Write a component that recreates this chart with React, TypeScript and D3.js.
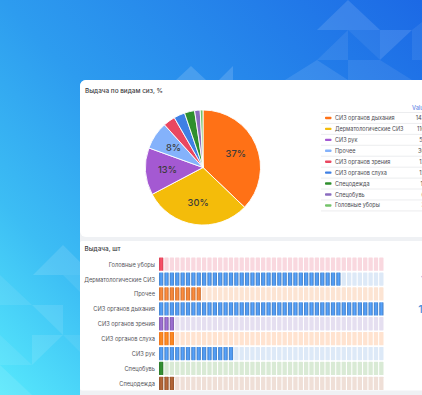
import React from 'react';
import * as d3 from 'd3';

const W = 422;
const H = 395;

// Pie (Выдача по видам сиз, %)
const pieNames = [
  'СИЗ органов дыхания',
  'Дерматологические СИЗ',
  'СИЗ рук',
  'Прочее',
  'СИЗ органов зрения',
  'СИЗ органов слуха',
  'Спецодежда',
  'Спецобувь',
  'Головные уборы',
];
const pieValues = [143, 116, 51, 30, 13, 12, 11, 6, 3];
const pieColors = ['#FF7116', '#F4BC0A', '#A459D2', '#84B2FB', '#EA4760', '#3F80E4', '#2F8F2E', '#8A6CBF', '#74C36A'];
const pieLights = ['#FFA862', '#FFE54A', '#CD9CEA', '#A9CCFF', '#F06F82', '#6A9EEE', '#4BAA45', '#A58DD0', '#95D48C'];

// Bar gauge (Выдача, шт)
const barNames = [
  'Головные уборы',
  'Дерматологические СИЗ',
  'Прочее',
  'СИЗ органов дыхания',
  'СИЗ органов зрения',
  'СИЗ органов слуха',
  'СИЗ рук',
  'Спецобувь',
  'Спецодежда',
];
const barValues = [3, 116, 30, 143, 13, 12, 51, 6, 11];
const barLit = ['#E5465B', '#4A8CD9', '#E07934', '#4A8CD9', '#8A62B9', '#FF7A1E', '#4A8CD9', '#2E7F2C', '#9E5A31'];
const barUnlit = ['#F9D8DF', '#DDE9F7', '#FCE4D3', '#DDE9F7', '#E5DFF0', '#FFE3D0', '#DDE9F7', '#D9EAD5', '#EFDFD7'];
const cellCount = 42;

// decorative background triangles
const decoTriangles: [number, number][][] = [
  [[317, 30], [348, 0], [380, 30]],
  [[380, 30], [412, 30], [380, 60]],
  [[317, 60], [348, 30], [348, 60]],
  [[348, 30], [380, 30], [380, 60]],
  [[285, 80], [317, 60], [348, 80]],
  [[348, 60], [380, 60], [412, 80], [348, 80]],
  [[412, 30], [422, 22], [422, 60], [412, 60]],
  [[176, 80], [191, 66], [206, 80]],
  [[219, 80], [233, 66], [233, 80]],
  [[33, 275], [63, 245], [93, 275]],
  [[0, 275], [32, 305], [0, 305]],
  [[32, 305], [63, 305], [63, 335]],
  [[63, 275], [80, 275], [80, 292]],
  [[0, 335], [32, 365], [0, 365]],
  [[32, 335], [63, 335], [32, 365]],
  [[0, 365], [32, 395], [0, 395]],
  [[63, 335], [80, 335], [80, 352]],
];
const decoOpacity = [0.12, 0.12, 0.08, 0.06, 0.1, 0.08, 0.07, 0.15, 0.15, 0.12, 0.08, 0.1, 0.08, 0.08, 0.1, 0.1, 0.07];

const FONT = 'Inter, "Noto Sans", sans-serif';

export default function App() {
  // Pie geometry
  const cx = 203;
  const cy = 167.5;
  const R = 57.5;
  const total = d3.sum(pieValues);
  const pieData = d3.pie<number>().sort(null).value((d) => d)(pieValues);
  const arcGen = d3.arc<d3.PieArcDatum<number>>().innerRadius(0).outerRadius(R);
  const labelArc = d3.arc<d3.PieArcDatum<number>>().innerRadius(R * 0.62).outerRadius(R * 0.62);

  // Legend table
  const legendY = d3.scaleBand<string>().domain(pieNames).range([112.5, 210.9]);
  const legStep = legendY.step();

  // Bar gauge
  const rowY = d3.scaleBand<string>().domain(barNames).range([257.5, 390]).paddingInner(0.11);
  const cellX = d3
    .scaleBand<number>()
    .domain(d3.range(cellCount))
    .range([159, 383.5])
    .paddingInner(0.2);
  const litScale = d3.scaleLinear().domain([0, d3.max(barValues) as number]).range([0, cellCount]);

  const lineGen = d3.line();

  return (
    <svg width={W} height={H} style={{ position: 'absolute', left: 0, top: 0 }} fontFamily={FONT}>
      <defs>
        <linearGradient id="bg" gradientUnits="userSpaceOnUse" x1={0} y1={H} x2={W} y2={0}>
          <stop offset="0" stopColor="#57E9FC" />
          <stop offset="0.23" stopColor="#3CBDF4" />
          <stop offset="0.47" stopColor="#2D9CEF" />
          <stop offset="1" stopColor="#1C69E5" />
        </linearGradient>
        {pieColors.map((c, i) => (
          <radialGradient key={i} id={`pg${i}`} gradientUnits="userSpaceOnUse" cx={cx} cy={cy} r={R}>
            <stop offset="0" stopColor={pieLights[i]} />
            <stop offset="1" stopColor={c} />
          </radialGradient>
        ))}
        {barLit.map((c, i) => (
          <linearGradient key={i} id={`cg${i}`} x1="0" y1="0" x2="1" y2="0">
            <stop offset="0" stopColor={d3.color(c)!.darker(0.25).formatHex()} />
            <stop offset="0.5" stopColor={d3.color(c)!.brighter(0.45).formatHex()} />
            <stop offset="1" stopColor={d3.color(c)!.darker(0.25).formatHex()} />
          </linearGradient>
        ))}
      </defs>

      {/* background */}
      <rect x={0} y={0} width={W} height={H} fill="url(#bg)" />
      {decoTriangles.map((pts, i) => (
        <path key={i} d={lineGen(pts) + 'Z'} fill="#ffffff" opacity={decoOpacity[i]} />
      ))}

      {/* dashboard panels */}
      <rect x={80} y={80} width={360} height={330} rx={6} fill="#EFF1F4" />
      <rect x={80} y={80} width={360} height={157} rx={6} fill="#ffffff" />
      <rect x={80} y={241} width={360} height={149.5} rx={2} fill="#ffffff" />

      {/* Pie panel */}
      <text x={85} y={93.2} fontSize={6.4} fontWeight={500} fill="#3A3A3E">
        Выдача по видам сиз, %
      </text>
      <g transform={`translate(${cx},${cy})`}>
        {pieData.map((d, i) => (
          <path key={i} d={arcGen(d) || ''} fill={`url(#pg${i})`} stroke="#ffffff" strokeWidth={0.9} />
        ))}
        {pieData.map((d, i) => {
          const pct = (d.data / total) * 100;
          if (pct < 5) return null;
          const [lx, ly] = labelArc.centroid(d);
          return (
            <text
              key={i}
              x={lx}
              y={ly}
              textAnchor="middle"
              dominantBaseline="central"
              fontSize={9.3}
              fontWeight={500}
              fill="#3B3B3B"
            >
              {Math.round(pct)}%
            </text>
          );
        })}
      </g>

      {/* legend table */}
      <text x={412} y={107.5} dominantBaseline="central" fontSize={5.6} fontWeight={500} fill="#6A8CE6">
        Value
      </text>
      {d3.range(pieNames.length + 1).map((k) => (
        <line
          key={k}
          x1={321}
          x2={W}
          y1={112.5 + k * legStep}
          y2={112.5 + k * legStep}
          stroke="#E7E8EB"
          strokeWidth={0.8}
        />
      ))}
      {pieNames.map((n, i) => {
        const yc = (legendY(n) as number) + legStep / 2;
        return (
          <g key={n}>
            <rect x={325} y={yc - 1.2} width={6.5} height={2.4} rx={0.8} fill={pieColors[i]} />
            <text x={335} y={yc} dominantBaseline="central" fontSize={5.5} fill="#4A4A50">
              {n}
            </text>
            <text x={425} y={yc} dominantBaseline="central" textAnchor="end" fontSize={5.6} fill="#4A4A50">
              {pieValues[i]}
            </text>
          </g>
        );
      })}

      {/* Bar gauge panel */}
      <text x={84.5} y={250.5} fontSize={6.4} fontWeight={500} fill="#3A3A3E">
        Выдача, шт
      </text>
      {barNames.map((n, i) => {
        const y0 = rowY(n) as number;
        const bh = rowY.bandwidth();
        const lit = Math.max(1, Math.floor(litScale(barValues[i]) + 1e-9));
        return (
          <g key={n}>
            <text
              x={155}
              y={y0 + bh / 2}
              textAnchor="end"
              dominantBaseline="central"
              fontSize={5.7}
              fill="#55555B"
            >
              {n}
            </text>
            {d3.range(cellCount).map((c) => (
              <rect
                key={c}
                x={cellX(c)}
                y={y0}
                width={cellX.bandwidth()}
                height={bh}
                rx={0.6}
                fill={c < lit ? `url(#cg${i})` : barUnlit[i]}
              />
            ))}
            <text
              x={437}
              y={y0 + bh / 2}
              textAnchor="end"
              dominantBaseline="central"
              fontSize={11}
              fontWeight={500}
              fill={barLit[i]}
            >
              {barValues[i]}
            </text>
          </g>
        );
      })}
    </svg>
  );
}
